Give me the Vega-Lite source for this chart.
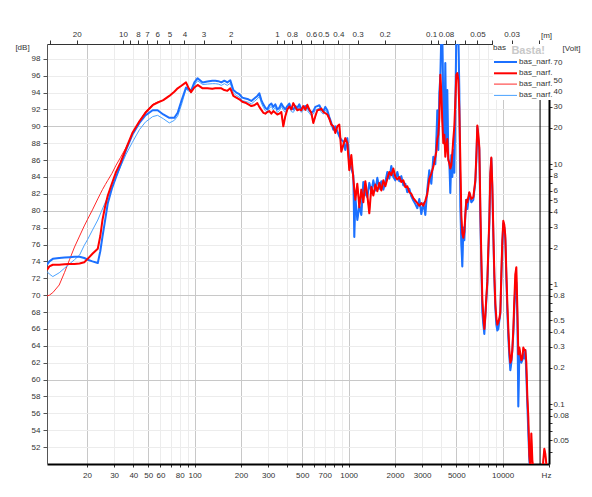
{
  "$schema": "https://vega.github.io/schema/vega-lite/v6.json",
  "width": 502,
  "height": 420,
  "autosize": "none",
  "padding": {"left": 47, "top": 44, "right": 43, "bottom": 33},
  "background": "white",
  "title": {"text": "Basta!", "anchor": "end", "frame": "group", "orient": "top", "offset": -7, "dy": 25, "baseline": "middle", "fontSize": 11, "fontWeight": "bold", "color": "#c8c8c8", "dx": -4},
  "config": {
    "view": {"stroke": null},
    "font": "Liberation Sans",
    "axis": {"labelFont": "Liberation Sans", "labelFontSize": 8, "labelColor": "#333333", "titleFont": "Liberation Sans", "titleFontSize": 8, "titleFontWeight": "normal", "titleColor": "#333333", "labelOverlap": false, "labelFlush": false},
    "legend": {"labelFont": "Liberation Sans", "titleFont": "Liberation Sans"}
  },
  "layer": [
    {
      "data": {"values": [
        {"f":11,"narf1":73.6,"narf2":73.0,"narf3":69.9,"narf4":72.8},
        {"f":11.4,"narf1":74.0,"narf2":73.4,"narf3":70.0,"narf4":72.5},
        {"f":12.0,"narf1":74.3,"narf2":73.6,"narf3":70.3,"narf4":72.2},
        {"f":13.2,"narf1":74.4,"narf2":73.6,"narf3":71.2,"narf4":72.65},
        {"f":14.3,"narf1":74.45,"narf2":73.65,"narf3":72.7,"narf4":73.2},
        {"f":15.4,"narf1":74.5,"narf2":73.7,"narf3":74.2,"narf4":73.7},
        {"f":16.6,"narf1":74.55,"narf2":73.7,"narf3":75.7,"narf4":74.2},
        {"f":17.9,"narf1":74.55,"narf2":73.75,"narf3":77.0,"narf4":74.75},
        {"f":19.2,"narf1":74.4,"narf2":73.9,"narf3":78.2,"narf4":75.9},
        {"f":20.2,"narf1":74.2,"narf2":74.3,"narf3":79.0,"narf4":76.6},
        {"f":21.7,"narf1":74.0,"narf2":74.9,"narf3":80.1,"narf4":77.7},
        {"f":23.5,"narf1":73.8,"narf2":75.5,"narf3":81.4,"narf4":78.9},
        {"f":24.4,"narf1":75.2,"narf2":77.0,"narf3":82.0,"narf4":79.6},
        {"f":25.2,"narf1":76.9,"narf2":78.9,"narf3":82.5,"narf4":80.2},
        {"f":26.3,"narf1":79.0,"narf2":80.6,"narf3":83.1,"narf4":81.0},
        {"f":27.3,"narf1":80.9,"narf2":81.8,"narf3":83.6,"narf4":81.65},
        {"f":29.0,"narf1":82.6,"narf2":83.2,"narf3":84.4,"narf4":82.7},
        {"f":30.9,"narf1":84.0,"narf2":84.6,"narf3":85.4,"narf4":84.0},
        {"f":33.0,"narf1":85.4,"narf2":85.7,"narf3":86.3,"narf4":85.2},
        {"f":35.9,"narf1":87.2,"narf2":87.4,"narf3":87.5,"narf4":86.7},
        {"f":39.4,"narf1":89.0,"narf2":89.2,"narf3":89.0,"narf4":88.1},
        {"f":43.8,"narf1":90.4,"narf2":90.6,"narf3":90.6,"narf4":89.6},
        {"f":47.9,"narf1":91.3,"narf2":91.6,"narf3":91.7,"narf4":90.5},
        {"f":53.4,"narf1":91.9,"narf2":92.5,"narf3":92.6,"narf4":91.15},
        {"f":57.5,"narf1":91.9,"narf2":92.8,"narf3":92.9,"narf4":91.3},
        {"f":62.6,"narf1":91.4,"narf2":93.1,"narf3":93.1,"narf4":90.9},
        {"f":68.5,"narf1":91.0,"narf2":93.6,"narf3":93.6,"narf4":90.4},
        {"f":73.8,"narf1":91.0,"narf2":94.1,"narf3":94.1,"narf4":90.7},
        {"f":77.6,"narf1":91.6,"narf2":94.5,"narf3":94.5,"narf4":91.2},
        {"f":82.0,"narf1":93.0,"narf2":94.8,"narf3":94.8,"narf4":92.5},
        {"f":87.9,"narf1":94.6,"narf2":95.2,"narf3":95.2,"narf4":94.4},
        {"f":91.0,"narf1":94.4,"narf2":94.6,"narf3":94.6,"narf4":94.2},
        {"f":94.8,"narf1":94.2,"narf2":94.05,"narf3":94.05,"narf4":94.0},
        {"f":99.6,"narf1":95.2,"narf2":94.6,"narf3":94.6,"narf4":94.9},
        {"f":104.6,"narf1":95.7,"narf2":94.9,"narf3":94.9,"narf4":95.4},
        {"f":112.7,"narf1":95.2,"narf2":94.5,"narf3":94.5,"narf4":94.95},
        {"f":120.9,"narf1":95.3,"narf2":94.5,"narf3":94.5,"narf4":95.0},
        {"f":130.3,"narf1":95.4,"narf2":94.45,"narf3":94.45,"narf4":95.05},
        {"f":136.3,"narf1":95.4,"narf2":94.5,"narf3":94.5,"narf4":95.05},
        {"f":142.5,"narf1":95.35,"narf2":94.5,"narf3":94.5,"narf4":95.0},
        {"f":149.1,"narf1":95.2,"narf2":94.5,"narf3":94.5,"narf4":94.85},
        {"f":155.9,"narf1":95.4,"narf2":94.3,"narf3":94.3,"narf4":95.05},
        {"f":163.1,"narf1":95.2,"narf2":94.2,"narf3":94.2,"narf4":94.85},
        {"f":170.5,"narf1":95.45,"narf2":94.5,"narf3":94.5,"narf4":95.1},
        {"f":178.4,"narf1":94.3,"narf2":93.6,"narf3":93.6,"narf4":93.95},
        {"f":186.5,"narf1":94.0,"narf2":93.4,"narf3":93.4,"narf4":93.65},
        {"f":195.1,"narf1":93.8,"narf2":93.2,"narf3":93.2,"narf4":93.45},
        {"f":204.0,"narf1":93.4,"narf2":92.9,"narf3":92.9,"narf4":93.05},
        {"f":213.4,"narf1":93.3,"narf2":92.8,"narf3":92.8,"narf4":92.95},
        {"f":223.2,"narf1":93.2,"narf2":92.6,"narf3":92.6,"narf4":92.85},
        {"f":233.4,"narf1":93.0,"narf2":92.4,"narf3":92.4,"narf4":92.65},
        {"f":244.1,"narf1":93.3,"narf2":92.5,"narf3":92.5,"narf4":92.95},
        {"f":255.3,"narf1":93.6,"narf2":92.75,"narf3":92.75,"narf4":93.25},
        {"f":263.1,"narf1":93.9,"narf2":92.3,"narf3":92.3,"narf4":93.55},
        {"f":271.1,"narf1":93.1,"narf2":91.95,"narf3":91.95,"narf4":92.75},
        {"f":279.3,"narf1":92.6,"narf2":91.6,"narf3":91.6,"narf4":92.25},
        {"f":287.8,"narf1":92.2,"narf2":91.5,"narf3":91.5,"narf4":91.85},
        {"f":296.5,"narf1":92.0,"narf2":91.7,"narf3":91.7,"narf4":91.65},
        {"f":305.5,"narf1":92.5,"narf2":91.8,"narf3":91.8,"narf4":92.15},
        {"f":314.8,"narf1":92.7,"narf2":91.5,"narf3":91.5,"narf4":92.35},
        {"f":324.3,"narf1":92.3,"narf2":91.8,"narf3":91.8,"narf4":91.95},
        {"f":334.2,"narf1":92.6,"narf2":91.6,"narf3":91.6,"narf4":92.25},
        {"f":344.3,"narf1":92.0,"narf2":91.4,"narf3":91.4,"narf4":91.65},
        {"f":354.8,"narf1":92.2,"narf2":91.5,"narf3":91.5,"narf4":91.85},
        {"f":365.5,"narf1":92.7,"narf2":91.7,"narf3":91.7,"narf4":92.35},
        {"f":376.6,"narf1":92.3,"narf2":90.0,"narf3":90.0,"narf4":91.95},
        {"f":388.0,"narf1":92.0,"narf2":91.2,"narf3":91.2,"narf4":91.65},
        {"f":399.8,"narf1":92.4,"narf2":92.0,"narf3":92.0,"narf4":92.05},
        {"f":412.0,"narf1":92.7,"narf2":92.35,"narf3":92.35,"narf4":92.35},
        {"f":424.5,"narf1":92.1,"narf2":92.0,"narf3":92.0,"narf4":91.75},
        {"f":437.3,"narf1":92.0,"narf2":92.75,"narf3":92.75,"narf4":91.65},
        {"f":450.6,"narf1":92.4,"narf2":92.3,"narf3":92.3,"narf4":92.05},
        {"f":464.3,"narf1":92.2,"narf2":91.9,"narf3":91.9,"narf4":91.85},
        {"f":478.4,"narf1":92.6,"narf2":92.0,"narf3":92.0,"narf4":92.25},
        {"f":492.9,"narf1":92.0,"narf2":91.9,"narf3":91.9,"narf4":91.65},
        {"f":507.9,"narf1":92.3,"narf2":92.4,"narf3":92.4,"narf4":91.95},
        {"f":523.3,"narf1":92.4,"narf2":91.95,"narf3":91.95,"narf4":92.05},
        {"f":539.2,"narf1":92.2,"narf2":92.55,"narf3":92.55,"narf4":91.85},
        {"f":555.6,"narf1":91.9,"narf2":92.0,"narf3":92.0,"narf4":91.55},
        {"f":572.5,"narf1":91.6,"narf2":91.6,"narf3":91.6,"narf4":91.25},
        {"f":589.9,"narf1":91.8,"narf2":90.4,"narf3":90.4,"narf4":91.45},
        {"f":607.8,"narf1":92.3,"narf2":91.2,"narf3":91.2,"narf4":91.95},
        {"f":626.2,"narf1":92.4,"narf2":91.9,"narf3":91.9,"narf4":92.05},
        {"f":645.2,"narf1":92.5,"narf2":91.95,"narf3":91.95,"narf4":92.15},
        {"f":664.8,"narf1":92.0,"narf2":92.1,"narf3":92.1,"narf4":91.65},
        {"f":685.0,"narf1":91.8,"narf2":91.7,"narf3":91.7,"narf4":91.45},
        {"f":705.8,"narf1":92.3,"narf2":91.55,"narf3":91.55,"narf4":91.95},
        {"f":727.2,"narf1":91.9,"narf2":91.4,"narf3":91.4,"narf4":91.55},
        {"f":749.3,"narf1":91.1,"narf2":90.9,"narf3":90.9,"narf4":90.75},
        {"f":772.0,"narf1":90.4,"narf2":90.2,"narf3":90.2,"narf4":90.4},
        {"f":795.5,"narf1":89.6,"narf2":90.0,"narf3":90.0,"narf4":89.6},
        {"f":819.6,"narf1":90.0,"narf2":89.2,"narf3":89.2,"narf4":90.0},
        {"f":844.5,"narf1":89.4,"narf2":90.0,"narf3":90.0,"narf4":89.4},
        {"f":870.1,"narf1":88.8,"narf2":90.2,"narf3":90.2,"narf4":88.8},
        {"f":896.5,"narf1":88.4,"narf2":87.0,"narf3":87.0,"narf4":88.4},
        {"f":923.8,"narf1":88.2,"narf2":87.8,"narf3":87.8,"narf4":88.2},
        {"f":951.8,"narf1":87.2,"narf2":88.6,"narf3":88.6,"narf4":87.2},
        {"f":980.7,"narf1":88.6,"narf2":88.0,"narf3":88.0,"narf4":88.6},
        {"f":1010.5,"narf1":86.0,"narf2":84.8,"narf3":84.8,"narf4":86.0},
        {"f":1041.2,"narf1":85.0,"narf2":86.6,"narf3":86.6,"narf4":85.0},
        {"f":1072.8,"narf1":84.2,"narf2":83.8,"narf3":83.8,"narf4":84.2},
        {"f":1088.9,"narf1":76.9,"narf2":82.5,"narf3":82.5,"narf4":76.9},
        {"f":1105.4,"narf1":81.6,"narf2":81.3,"narf3":81.3,"narf4":81.6},
        {"f":1138.9,"narf1":78.9,"narf2":83.2,"narf3":83.2,"narf4":78.9},
        {"f":1173.5,"narf1":80.6,"narf2":80.4,"narf3":80.4,"narf4":80.6},
        {"f":1209.1,"narf1":79.5,"narf2":82.5,"narf3":82.5,"narf4":79.5},
        {"f":1245.8,"narf1":83.4,"narf2":81.0,"narf3":81.0,"narf4":83.4},
        {"f":1283.6,"narf1":82.0,"narf2":83.5,"narf3":83.5,"narf4":82.0},
        {"f":1322.6,"narf1":81.6,"narf2":81.8,"narf3":81.8,"narf4":81.6},
        {"f":1362.7,"narf1":83.3,"narf2":79.7,"narf3":79.7,"narf4":83.3},
        {"f":1404.1,"narf1":82.2,"narf2":82.8,"narf3":82.8,"narf4":82.2},
        {"f":1446.7,"narf1":83.6,"narf2":81.8,"narf3":81.8,"narf4":83.6},
        {"f":1490.6,"narf1":82.4,"narf2":83.1,"narf3":83.1,"narf4":82.4},
        {"f":1535.9,"narf1":83.9,"narf2":82.3,"narf3":82.3,"narf4":83.9},
        {"f":1582.5,"narf1":82.6,"narf2":83.3,"narf3":83.3,"narf4":82.6},
        {"f":1630.5,"narf1":83.5,"narf2":82.4,"narf3":82.4,"narf4":83.5},
        {"f":1680.0,"narf1":82.5,"narf2":83.6,"narf3":83.6,"narf4":82.5},
        {"f":1731.0,"narf1":83.4,"narf2":82.9,"narf3":82.9,"narf4":83.4},
        {"f":1783.5,"narf1":84.6,"narf2":83.8,"narf3":83.8,"narf4":84.6},
        {"f":1837.7,"narf1":83.8,"narf2":84.6,"narf3":84.6,"narf4":83.8},
        {"f":1893.4,"narf1":85.3,"narf2":84.2,"narf3":84.2,"narf4":85.3},
        {"f":1950.9,"narf1":84.0,"narf2":85.0,"narf3":85.0,"narf4":84.0},
        {"f":2010.1,"narf1":83.6,"narf2":84.0,"narf3":84.0,"narf4":83.6},
        {"f":2071.1,"narf1":84.6,"narf2":83.7,"narf3":83.7,"narf4":84.6},
        {"f":2134.0,"narf1":83.5,"narf2":84.0,"narf3":84.0,"narf4":83.5},
        {"f":2198.8,"narf1":84.1,"narf2":83.4,"narf3":83.4,"narf4":84.1},
        {"f":2265.5,"narf1":83.0,"narf2":83.6,"narf3":83.6,"narf4":83.0},
        {"f":2334.3,"narf1":83.2,"narf2":82.8,"narf3":82.8,"narf4":83.2},
        {"f":2405.1,"narf1":82.2,"narf2":82.9,"narf3":82.9,"narf4":82.2},
        {"f":2478.1,"narf1":82.6,"narf2":82.2,"narf3":82.2,"narf4":82.6},
        {"f":2553.3,"narf1":81.7,"narf2":82.0,"narf3":82.0,"narf4":81.7},
        {"f":2630.8,"narf1":81.2,"narf2":81.5,"narf3":81.5,"narf4":81.2},
        {"f":2710.7,"narf1":80.8,"narf2":81.2,"narf3":81.2,"narf4":80.8},
        {"f":2793.0,"narf1":80.3,"narf2":80.9,"narf3":80.9,"narf4":80.3},
        {"f":2877.8,"narf1":81.4,"narf2":80.6,"narf3":80.6,"narf4":81.4},
        {"f":2965.1,"narf1":79.6,"narf2":80.9,"narf3":80.9,"narf4":79.6},
        {"f":3055.1,"narf1":80.9,"narf2":80.6,"narf3":80.6,"narf4":80.9},
        {"f":3147.9,"narf1":79.5,"narf2":81.2,"narf3":81.2,"narf4":79.5},
        {"f":3243.4,"narf1":82.6,"narf2":82.0,"narf3":82.0,"narf4":82.6},
        {"f":3341.9,"narf1":84.8,"narf2":83.8,"narf3":83.8,"narf4":84.8},
        {"f":3443.3,"narf1":83.2,"narf2":84.4,"narf3":84.4,"narf4":83.2},
        {"f":3547.8,"narf1":86.4,"narf2":85.2,"narf3":85.2,"narf4":86.4},
        {"f":3655.5,"narf1":85.5,"narf2":86.4,"narf3":86.4,"narf4":85.5},
        {"f":3710.6,"narf1":88.4,"narf2":87.0,"narf3":87.0,"narf4":88.4},
        {"f":3766.5,"narf1":91.9,"narf2":88.5,"narf3":88.5,"narf4":91.9},
        {"f":3823.2,"narf1":87.2,"narf2":89.0,"narf3":89.0,"narf4":87.2},
        {"f":3880.8,"narf1":94.0,"narf2":91.0,"narf3":91.0,"narf4":94.0},
        {"f":3939.3,"narf1":95.9,"narf2":96.1,"narf3":96.1,"narf4":95.9},
        {"f":3998.6,"narf1":101,"narf2":94.0,"narf3":94.0,"narf4":101},
        {"f":4058.8,"narf1":101,"narf2":90.5,"narf3":90.5,"narf4":101},
        {"f":4120.0,"narf1":92.0,"narf2":88.0,"narf3":88.0,"narf4":92.0},
        {"f":4182.1,"narf1":88.0,"narf2":89.0,"narf3":89.0,"narf4":88.0},
        {"f":4245.1,"narf1":97.5,"narf2":86.4,"narf3":86.4,"narf4":97.5},
        {"f":4309.0,"narf1":87.6,"narf2":87.6,"narf3":87.6,"narf4":87.6},
        {"f":4373.9,"narf1":94.3,"narf2":88.5,"narf3":88.5,"narf4":94.3},
        {"f":4439.8,"narf1":86.2,"narf2":86.0,"narf3":86.0,"narf4":86.2},
        {"f":4506.7,"narf1":85.6,"narf2":85.6,"narf3":85.6,"narf4":85.6},
        {"f":4574.6,"narf1":82.1,"narf2":85.0,"narf3":85.0,"narf4":82.1},
        {"f":4643.5,"narf1":86.6,"narf2":85.4,"narf3":85.4,"narf4":86.6},
        {"f":4713.5,"narf1":84.0,"narf2":86.8,"narf3":86.8,"narf4":84.0},
        {"f":4784.5,"narf1":87.2,"narf2":88.5,"narf3":88.5,"narf4":87.2},
        {"f":4856.6,"narf1":84.5,"narf2":90.0,"narf3":90.0,"narf4":84.5},
        {"f":4929.7,"narf1":92.3,"narf2":93.0,"narf3":93.0,"narf4":92.3},
        {"f":5004.0,"narf1":101,"narf2":96.1,"narf3":96.1,"narf4":101},
        {"f":5079.4,"narf1":101,"narf2":96.3,"narf3":96.3,"narf4":101},
        {"f":5155.9,"narf1":101,"narf2":95.5,"narf3":95.5,"narf4":101},
        {"f":5233.6,"narf1":94.3,"narf2":92.0,"narf3":92.0,"narf4":94.3},
        {"f":5312.4,"narf1":80.5,"narf2":86.0,"narf3":86.0,"narf4":80.5},
        {"f":5392.4,"narf1":76.0,"narf2":79.5,"narf3":79.5,"narf4":76.0},
        {"f":5473.7,"narf1":73.4,"narf2":77.3,"narf3":77.3,"narf4":73.4},
        {"f":5556.1,"narf1":78.0,"narf2":76.8,"narf3":76.8,"narf4":78.0},
        {"f":5639.8,"narf1":76.5,"narf2":77.5,"narf3":77.5,"narf4":76.5},
        {"f":5724.8,"narf1":79.5,"narf2":79.5,"narf3":79.5,"narf4":79.5},
        {"f":5811.0,"narf1":81.3,"narf2":81.3,"narf3":81.3,"narf4":81.3},
        {"f":5898.6,"narf1":80.2,"narf2":81.0,"narf3":81.0,"narf4":80.2},
        {"f":6077.6,"narf1":82.1,"narf2":82.2,"narf3":82.2,"narf4":82.1},
        {"f":6262.1,"narf1":81.0,"narf2":81.4,"narf3":81.4,"narf4":81.0},
        {"f":6452.2,"narf1":81.3,"narf2":81.6,"narf3":81.6,"narf4":81.3},
        {"f":6648.0,"narf1":83.4,"narf2":83.6,"narf3":83.6,"narf4":83.4},
        {"f":6748.2,"narf1":86.0,"narf2":86.5,"narf3":86.5,"narf4":86.0},
        {"f":6849.8,"narf1":89.9,"narf2":90.1,"narf3":90.1,"narf4":89.9},
        {"f":6953.0,"narf1":88.5,"narf2":89.0,"narf3":89.0,"narf4":88.5},
        {"f":7057.8,"narf1":87.2,"narf2":87.5,"narf3":87.5,"narf4":87.2},
        {"f":7164.1,"narf1":79.3,"narf2":80.5,"narf3":80.5,"narf4":79.3},
        {"f":7272.0,"narf1":73.5,"narf2":74.5,"narf3":74.5,"narf4":73.5},
        {"f":7381.6,"narf1":68.0,"narf2":69.5,"narf3":69.5,"narf4":68.0},
        {"f":7492.8,"narf1":66.5,"narf2":67.5,"narf3":67.5,"narf4":66.5},
        {"f":7605.7,"narf1":65.4,"narf2":66.0,"narf3":66.0,"narf4":65.4},
        {"f":7720.3,"narf1":67.5,"narf2":67.5,"narf3":67.5,"narf4":67.5},
        {"f":7836.6,"narf1":69.4,"narf2":69.8,"narf3":69.8,"narf4":69.4},
        {"f":7954.6,"narf1":71.4,"narf2":71.6,"narf3":71.6,"narf4":71.4},
        {"f":8074.5,"narf1":75.0,"narf2":75.5,"narf3":75.5,"narf4":75.0},
        {"f":8196.1,"narf1":78.5,"narf2":79.0,"narf3":79.0,"narf4":78.5},
        {"f":8319.6,"narf1":84.0,"narf2":84.5,"narf3":84.5,"narf4":84.0},
        {"f":8444.9,"narf1":86.2,"narf2":86.3,"narf3":86.3,"narf4":86.2},
        {"f":8572.1,"narf1":82.5,"narf2":83.0,"narf3":83.0,"narf4":82.5},
        {"f":8701.3,"narf1":77.0,"narf2":77.5,"narf3":77.5,"narf4":77.0},
        {"f":8832.4,"narf1":72.0,"narf2":72.5,"narf3":72.5,"narf4":72.0},
        {"f":8965.4,"narf1":68.5,"narf2":69.0,"narf3":69.0,"narf4":68.5},
        {"f":9100.5,"narf1":66.5,"narf2":67.3,"narf3":67.3,"narf4":66.5},
        {"f":9237.6,"narf1":65.8,"narf2":66.5,"narf3":66.5,"narf4":65.8},
        {"f":9376.8,"narf1":66.0,"narf2":66.8,"narf3":66.8,"narf4":66.0},
        {"f":9518.0,"narf1":67.0,"narf2":67.2,"narf3":67.2,"narf4":67.0},
        {"f":9661.4,"narf1":67.8,"narf2":68.0,"narf3":68.0,"narf4":67.8},
        {"f":9807.0,"narf1":72.0,"narf2":72.5,"narf3":72.5,"narf4":72.0},
        {"f":9954.7,"narf1":76.0,"narf2":76.5,"narf3":76.5,"narf4":76.0},
        {"f":10104.7,"narf1":78.5,"narf2":78.8,"narf3":78.8,"narf4":78.5},
        {"f":10257.0,"narf1":78.0,"narf2":78.3,"narf3":78.3,"narf4":78.0},
        {"f":10411.5,"narf1":76.5,"narf2":77.0,"narf3":77.0,"narf4":76.5},
        {"f":10568.3,"narf1":72.0,"narf2":72.8,"narf3":72.8,"narf4":72.0},
        {"f":10727.5,"narf1":68.0,"narf2":69.0,"narf3":69.0,"narf4":68.0},
        {"f":10889.2,"narf1":65.0,"narf2":66.0,"narf3":66.0,"narf4":65.0},
        {"f":11053.2,"narf1":62.7,"narf2":63.5,"narf3":63.5,"narf4":62.7},
        {"f":11219.7,"narf1":61.1,"narf2":62.0,"narf3":62.0,"narf4":61.1},
        {"f":11388.7,"narf1":62.0,"narf2":62.3,"narf3":62.3,"narf4":62.0},
        {"f":11560.3,"narf1":63.5,"narf2":63.5,"narf3":63.5,"narf4":63.5},
        {"f":11734.5,"narf1":65.5,"narf2":66.0,"narf3":66.0,"narf4":65.5},
        {"f":11911.3,"narf1":68.5,"narf2":69.5,"narf3":69.5,"narf4":68.5},
        {"f":12090.7,"narf1":71.0,"narf2":72.5,"narf3":72.5,"narf4":71.0},
        {"f":12272.9,"narf1":71.5,"narf2":73.3,"narf3":73.3,"narf4":71.5},
        {"f":12457.8,"narf1":67.4,"narf2":68.5,"narf3":68.5,"narf4":67.4},
        {"f":12645.4,"narf1":56.8,"narf2":63.0,"narf3":63.0,"narf4":56.8},
        {"f":12835.9,"narf1":63.0,"narf2":63.8,"narf3":63.8,"narf4":63.0},
        {"f":13029.3,"narf1":62.5,"narf2":63.0,"narf3":63.0,"narf4":62.5},
        {"f":13225.6,"narf1":62.0,"narf2":62.3,"narf3":62.3,"narf4":62.0},
        {"f":13424.9,"narf1":62.3,"narf2":62.5,"narf3":62.5,"narf4":62.3},
        {"f":13627.1,"narf1":63.0,"narf2":63.8,"narf3":63.8,"narf4":63.0},
        {"f":13832.4,"narf1":62.5,"narf2":63.5,"narf3":63.5,"narf4":62.5},
        {"f":14040.8,"narf1":63.5,"narf2":63.5,"narf3":63.5,"narf4":63.5},
        {"f":14252.3,"narf1":60.5,"narf2":62.0,"narf3":62.0,"narf4":60.5},
        {"f":14467.1,"narf1":57.0,"narf2":58.0,"narf3":58.0,"narf4":57.0},
        {"f":14685.0,"narf1":53.6,"narf2":55.5,"narf3":55.5,"narf4":53.6},
        {"f":14906.2,"narf1":50.5,"narf2":51.0,"narf3":51.0,"narf4":50.5},
        {"f":15130.8,"narf1":48.5,"narf2":49.5,"narf3":49.5,"narf4":48.5},
        {"f":15358.8,"narf1":48.0,"narf2":53.6,"narf3":53.6,"narf4":48.0},
        {"f":15590.1,"narf1":48.0,"narf2":50.5,"narf3":50.5,"narf4":48.0},
        {"f":16063,"narf1":47.5,"narf2":48.0,"narf3":48.0,"narf4":47.5},
        {"f":16800,"narf1":47.0,"narf2":47.5,"narf3":47.5,"narf4":47.0},
        {"f":17571,"narf1":47.0,"narf2":47.0,"narf3":47.0,"narf4":47.0},
        {"f":18104,"narf1":48.0,"narf2":48.5,"narf3":48.5,"narf4":48.0},
        {"f":18377,"narf1":48.5,"narf2":50.5,"narf3":50.5,"narf4":48.5},
        {"f":18654,"narf1":49.0,"narf2":51.8,"narf3":51.8,"narf4":49.0},
        {"f":18935,"narf1":49.5,"narf2":51.2,"narf3":51.2,"narf4":49.5},
        {"f":19220,"narf1":49.0,"narf2":50.0,"narf3":50.0,"narf4":49.0},
        {"f":19510,"narf1":48.0,"narf2":49.0,"narf3":49.0,"narf4":48.0},
        {"f":19804,"narf1":47.5,"narf2":48.0,"narf3":48.0,"narf4":47.5}
      ]},
      "transform": [{"fold": ["narf1", "narf2", "narf3", "narf4"], "as": ["series", "db"]}],
      "layer": [
        {
          "transform": [{"filter": "datum.series === 'narf3' || datum.series === 'narf4'"}],
          "mark": {"type": "line", "clip": true, "strokeJoin": "round"},
          "encoding": {
            "x": {"field": "f", "type": "quantitative", "scale": {"type": "log", "domain": [11, 20000]},
              "axis": {"orient": "bottom", "values": [20,30,40,50,60,70,80,90,100,200,300,400,500,600,700,800,900,1000,2000,3000,4000,5000,6000,7000,8000,9000,10000,20000],
                "labelExpr": "indexof([20,30,40,50,60,80,100,200,300,500,700,1000,2000,3000,5000,10000], datum.value) >= 0 ? '' + datum.value : ''",
                "grid": true, "gridColor": {"condition": {"test": "indexof([20,50,100,200,500,1000,2000,5000,10000], datum.value) >= 0", "value": "#c8c8c8"}, "value": "#ececec"},
                "domainColor": "#000000", "domainWidth": 2, "tickColor": "#333333", "tickSize": 3, "labelPadding": 4,
                "title": "Hz", "titleX": 499, "titleY": 11, "titleAlign": "center", "titleBaseline": "middle"}},
            "y": {"field": "db", "type": "quantitative", "scale": {"domain": [50, 99.75], "nice": false, "zero": false},
              "axis": {"orient": "left", "values": [52,54,56,58,60,62,64,66,68,70,72,74,76,78,80,82,84,86,88,90,92,94,96,98],
                "grid": true, "gridColor": {"condition": {"test": "datum.value % 10 === 0", "value": "#c8c8c8"}, "value": "#ececec"},
                "domainColor": "#555555", "tickColor": "#555555", "tickSize": 4, "labelPadding": 3,
                "title": "[dB]", "titleAngle": 0, "titleX": -25, "titleY": 3, "titleAlign": "center", "titleBaseline": "middle"}},
            "color": {"field": "series", "type": "nominal", "scale": {"domain": ["narf1", "narf2", "narf3", "narf4"], "range": ["#1c70ff", "#ff0000", "#ff2a2a", "#4aa3ff"]},
              "legend": {"orient": "none", "legendX": 446, "legendY": 0, "title": "bas", "titleFontSize": 8, "titleFontWeight": "normal", "titleColor": "#333333", "titlePadding": 4, "fillColor": "white", "padding": 0, "symbolType": "M-1,0H3.6", "symbolSize": 100, "labelExpr": "'bas_narf.'", "labelFontSize": 8, "labelColor": "#333333", "labelOffset": 14, "rowPadding": 1.3, "offset": 0}},
            "strokeWidth": {"field": "series", "type": "nominal", "scale": {"type": "ordinal", "domain": ["narf1", "narf2", "narf3", "narf4"], "range": [2, 2, 1, 1]},
              "legend": {"orient": "none", "legendX": 446, "legendY": 0, "title": "bas", "titleFontSize": 8, "titleFontWeight": "normal", "titleColor": "#333333", "titlePadding": 4, "fillColor": "white", "padding": 0, "symbolType": "M-1,0H3.6", "symbolSize": 100, "labelExpr": "'bas_narf.'", "labelFontSize": 8, "labelColor": "#333333", "labelOffset": 14, "rowPadding": 1.3, "offset": 0}}
          }
        },
        {
          "transform": [{"filter": "datum.series === 'narf1'"}],
          "mark": {"type": "line", "clip": true, "strokeJoin": "round"},
          "encoding": {
            "x": {"field": "f", "type": "quantitative", "scale": {"type": "log", "domain": [11, 20000]}, "axis": null},
            "y": {"field": "db", "type": "quantitative", "scale": {"domain": [50, 99.75], "nice": false, "zero": false},
              "axis": {"orient": "left", "values": [52,54,56,58,60,62,64,66,68,70,72,74,76,78,80,82,84,86,88,90,92,94,96,98],
                "grid": true, "gridColor": {"condition": {"test": "datum.value % 10 === 0", "value": "#c8c8c8"}, "value": "#ececec"},
                "domainColor": "#555555", "tickColor": "#555555", "tickSize": 4, "labelPadding": 3,
                "title": "[dB]", "titleAngle": 0, "titleX": -25, "titleY": 3, "titleAlign": "center", "titleBaseline": "middle"}},
            "color": {"field": "series", "type": "nominal", "scale": {"domain": ["narf1", "narf2", "narf3", "narf4"], "range": ["#1c70ff", "#ff0000", "#ff2a2a", "#4aa3ff"]}},
            "strokeWidth": {"field": "series", "type": "nominal", "scale": {"type": "ordinal", "domain": ["narf1", "narf2", "narf3", "narf4"], "range": [2, 2, 1, 1]}}
          }
        },
        {
          "transform": [{"filter": "datum.series === 'narf2'"}],
          "mark": {"type": "line", "clip": true, "strokeJoin": "round"},
          "encoding": {
            "x": {"field": "f", "type": "quantitative", "scale": {"type": "log", "domain": [11, 20000]}, "axis": null},
            "y": {"field": "db", "type": "quantitative", "scale": {"domain": [50, 99.75], "nice": false, "zero": false},
              "axis": {"orient": "left", "values": [52,54,56,58,60,62,64,66,68,70,72,74,76,78,80,82,84,86,88,90,92,94,96,98],
                "grid": true, "gridColor": {"condition": {"test": "datum.value % 10 === 0", "value": "#c8c8c8"}, "value": "#ececec"},
                "domainColor": "#555555", "tickColor": "#555555", "tickSize": 4, "labelPadding": 3,
                "title": "[dB]", "titleAngle": 0, "titleX": -25, "titleY": 3, "titleAlign": "center", "titleBaseline": "middle"}},
            "color": {"field": "series", "type": "nominal", "scale": {"domain": ["narf1", "narf2", "narf3", "narf4"], "range": ["#1c70ff", "#ff0000", "#ff2a2a", "#4aa3ff"]}},
            "strokeWidth": {"field": "series", "type": "nominal", "scale": {"type": "ordinal", "domain": ["narf1", "narf2", "narf3", "narf4"], "range": [2, 2, 1, 1]}}
          }
        },
        {
          "data": {"values": [{"marker": 17500}]},
          "mark": {"type": "rule", "color": "#000000", "strokeWidth": 1},
          "encoding": {
            "x": {"field": "marker", "type": "quantitative", "scale": {"type": "log", "domain": [11, 20000]},
              "axis": {"orient": "top", "values": [11.4333,17.15,34.3,38.1111,42.875,49,57.1667,68.6,85.75,114.333,171.5,343,381.111,428.75,490,571.667,686,857.5,1143.33,1715,3430,3811.11,4287.5,4900,5716.67,6860,8575,11433.3,17150],
                "labelExpr": "indexof([20,10,8,7,6,5,4,3,2,1,0.8,0.6,0.5,0.4,0.3,0.2,0.1,0.08,0.05,0.03], round(34300/datum.value)/100) >= 0 ? '' + round(34300/datum.value)/100 : ''",
                "grid": false, "domainColor": "#333333", "tickColor": "#333333", "tickSize": 4, "labelPadding": 2,
                "title": "[m]", "titleX": 499, "titleY": -9, "titleAlign": "center", "titleBaseline": "middle"}}
          }
        }
      ],
      "resolve": {"axis": {"x": "independent"}}
    },
    {
      "data": {"values": [{"v": 0.0316228}, {"v": 100}]},
      "mark": {"type": "point", "opacity": 0},
      "encoding": {
        "y": {"field": "v", "type": "quantitative", "scale": {"type": "log", "domain": [0.0316228, 100], "nice": false},
          "axis": {"orient": "right", "values": [0.04,0.05,0.06,0.07,0.08,0.09,0.1,0.2,0.3,0.4,0.5,0.6,0.7,0.8,0.9,1,2,3,4,5,6,7,8,9,10,20,30,40,50,60,70,80,90,100],
            "format": "~g",
            "labelExpr": "indexof([0.05,0.08,0.1,0.2,0.3,0.4,0.5,0.8,1,2,3,4,5,6,8,10,20,30,40,50,70], datum.value) >= 0 ? datum.label : ''",
            "grid": false, "domainColor": "#000000", "domainWidth": 2, "tickColor": "#333333", "tickSize": 3, "labelPadding": 1,
            "title": "[Volt]", "titleAngle": 0, "titleX": 22, "titleY": 4, "titleAlign": "center", "titleBaseline": "middle"}}
      }
    }
  ],
  "resolve": {"scale": {"y": "independent"}}
}
